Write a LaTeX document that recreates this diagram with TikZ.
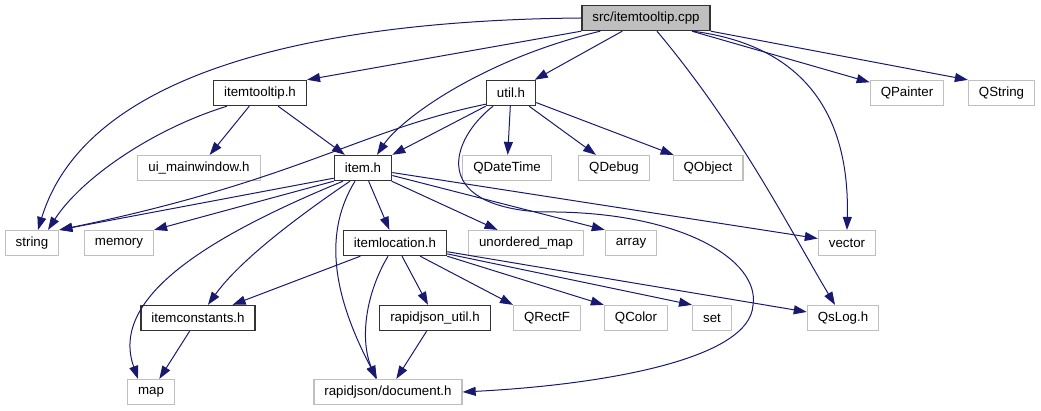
\documentclass[tikz,border=0pt]{standalone}
\usepackage{fontspec}
\setmainfont{Liberation Sans}
\usetikzlibrary{arrows.meta}
\definecolor{edgeblue}{HTML}{191970}
\definecolor{boxgray}{HTML}{BFBFBF}
\tikzset{
  hdr/.style={draw=boxgray, line width=1.2pt, inner xsep=10.5pt, inner ysep=0pt,
    minimum height=25pt, font=\fontsize{13.3}{15}\selectfont},
  dochdr/.style={hdr, draw=black!80, line width=1.4pt},
  roothdr/.style={dochdr, fill=boxgray},
  edge/.style={->, draw=edgeblue, line width=1pt}
}
\begin{document}
\begin{tikzpicture}[x=1pt,y=-1pt,>={Triangle[length=13pt,width=9pt]}]
\useasboundingbox (0,0) rectangle (1041,411);

% row 0 and 1
\node[roothdr] (cpp) at (646,18) {src/itemtooltip.cpp};
\node[dochdr] (ittip) at (260,93) {itemtooltip.h};
\node[dochdr] (util) at (511,93) {util.h};
\node[hdr] (qpainter) at (907,93) {QPainter};
\node[hdr] (qstring) at (1001.5,93) {QString};

% row 2
\node[hdr] (uimain) at (199,168) {ui\_mainwindow.h};
\node[dochdr] (item) at (363,168) {item.h};
\node[hdr] (qdatetime) at (507,168) {QDateTime};
\node[hdr] (qdebug) at (614,168) {QDebug};
\node[hdr] (qobject) at (708,168) {QObject};

% row 3
\node[hdr] (string) at (32,243) {string};
\node[hdr] (memory) at (119,243) {memory};
\node[dochdr] (itemloc) at (395,243) {itemlocation.h};
\node[hdr] (unomap) at (526,243) {unordered\_map};
\node[hdr] (array) at (631,243) {array};
\node[hdr] (vector) at (847,243) {vector};

% row 4 and 5
\node[dochdr] (itemconst) at (198,318) {itemconstants.h};
\node[dochdr] (rjutil) at (435,318) {rapidjson\_util.h};
\node[hdr] (qrectf) at (547,318) {QRectF};
\node[hdr] (qcolor) at (636,318) {QColor};
\node[hdr] (setinc) at (712,318) {set};
\node[hdr] (qslog) at (843,318) {QsLog.h};
\node[hdr] (map) at (151,392) {map};
\node[hdr] (rjdoc) at (388,392) {rapidjson/document.h};

% straight includes
\foreach \a/\b in {cpp.south west/ittip.north east, cpp/util, cpp/qpainter,
    cpp.south east/qstring.north west, ittip/uimain, ittip/item,
    util.south west/item.north east, util/qdatetime, util/qdebug, util/qobject,
    item.south west/memory.north east, item/itemloc, item/unomap,
    item/array.north west, item/vector, itemloc/itemconst, itemloc/rjutil,
    itemloc/qrectf.north west, itemloc.south east/qcolor.north west,
    itemloc/setinc.north west, itemloc/qslog, itemconst/map, rjutil/rjdoc}
    \draw[edge] (\a) -- (\b);
\draw[edge] ([yshift=3pt]item.south west) -- (string.north east);

% curved includes
\draw[edge] (cpp.west) .. controls (350,20) and (90,60) .. ([xshift=6pt]string.north);
\draw[edge] ([xshift=14pt]ittip.south west) .. controls (150,130) and (80,180) .. ([xshift=16pt]string.north);
\draw[edge] ([yshift=2pt]util.south west) .. controls (360,130) and (300,180) .. (string.north east);
\draw[edge] ([xshift=19pt]cpp.south west) .. controls (480,60) and (400,120) .. ([xshift=14pt]item.north);
\draw[edge] ([xshift=-18pt]cpp.south east) .. controls (800,45) and (850,110) .. (vector.north);
\draw[edge] ([xshift=11pt]cpp.south) .. controls (740,130) and (790,230) .. ([xshift=-8pt]qslog.north);
\draw[edge] ([xshift=-18pt]util.south) .. controls (450,140) and (430,205) .. (540,212)
    .. controls (680,210) and (760,260) .. (753,305)
    .. controls (750,360) and (600,385) .. (rjdoc.east);
\draw[edge] ([xshift=-13pt]item.south) .. controls (300,215) and (240,260) .. ([xshift=10pt]itemconst.north);
\draw[edge] ([xshift=-20pt]item.south) .. controls (200,240) and (110,300) .. ([xshift=-13pt]map.north);
\draw[edge] ([xshift=-8pt]item.south) .. controls (325,230) and (330,290) .. ([xshift=-11pt]rjdoc.north);
\draw[edge] ([xshift=-7pt]itemloc.south) .. controls (365,295) and (360,340) .. ([xshift=-12pt]rjdoc.north);
\end{tikzpicture}
\end{document}
